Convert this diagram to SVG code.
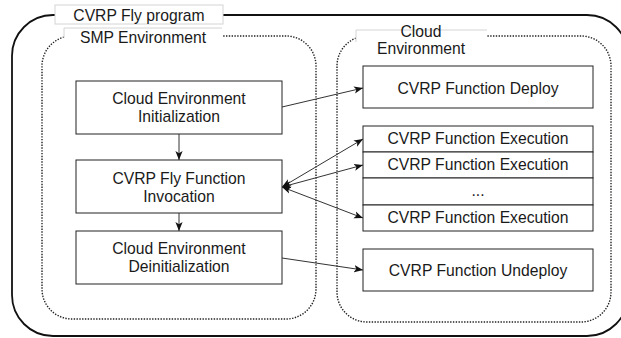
<svg xmlns="http://www.w3.org/2000/svg" width="621" height="338" viewBox="0 0 621 338">
  <style>
    .txt { font-family: "Liberation Sans", Arial, sans-serif; font-size: 15.7px; fill: #1a1a1a; text-anchor: middle; }
    .box { fill: #ffffff; stroke: #222; stroke-width: 1; }
    .dotted { fill: none; stroke: #222; stroke-width: 1.4; stroke-dasharray: 1.4 1.4; }
    .label-bg { fill: #ffffff; stroke: none; }
    .label-edge { fill: none; stroke: #d4d4d4; stroke-width: 1; }
    .conn { fill: none; stroke: #333; stroke-width: 1; }
  </style>
  <defs>
    <marker id="arrow" viewBox="0 0 10 10" refX="10" refY="5" markerWidth="9" markerHeight="9" markerUnits="userSpaceOnUse" orient="auto-start-reverse">
      <path d="M0,1 L10,5 L0,9 L2.5,5 z" fill="#111"/>
    </marker>
  </defs>

  <rect width="621" height="338" fill="#ffffff"/>

  <!-- outer program frame -->
  <g id="program">
    <rect x="12" y="15" width="616" height="321" rx="41" ry="41" fill="none" stroke="#111" stroke-width="1.8"/>
    <rect class="label-bg" x="55" y="5" width="168" height="19"/>
    <rect class="label-edge" x="55" y="5" width="168" height="19"/>
    <text class="txt" x="139" y="20.5">CVRP Fly program</text>
  </g>

  <!-- SMP environment container -->
  <g id="smp-environment">
    <rect class="dotted" x="42" y="36" width="274" height="283" rx="30" ry="30"/>
    <rect class="label-bg" x="64" y="28" width="158" height="18"/>
    <path class="label-edge" d="M64,38 V28 H222"/>
    <text class="txt" x="143" y="42.5">SMP Environment</text>
  </g>

  <!-- Cloud environment container -->
  <g id="cloud-environment">
    <rect class="dotted" x="337" y="36" width="274" height="286" rx="30" ry="30"/>
    <rect class="label-bg" x="356" y="30" width="131" height="28"/>
    <path class="label-edge" d="M356,42 V30 H487"/>
    <text class="txt" x="421" y="37">Cloud</text>
    <text class="txt" x="421" y="54">Environment</text>
  </g>

  <!-- SMP side steps -->
  <g id="init">
    <rect class="box" x="76" y="81" width="206" height="53"/>
    <text class="txt" x="179" y="104">Cloud Environment</text>
    <text class="txt" x="179" y="122">Initialization</text>
  </g>
  <g id="invocation">
    <rect class="box" x="76" y="160" width="206" height="53"/>
    <text class="txt" x="179" y="184">CVRP Fly Function</text>
    <text class="txt" x="179" y="202">Invocation</text>
  </g>
  <g id="deinit">
    <rect class="box" x="76" y="231" width="206" height="53"/>
    <text class="txt" x="179" y="254">Cloud Environment</text>
    <text class="txt" x="179" y="272">Deinitialization</text>
  </g>

  <!-- Cloud side functions -->
  <g id="deploy">
    <rect class="box" x="363" y="66" width="230" height="42"/>
    <text class="txt" x="478" y="94">CVRP Function Deploy</text>
  </g>
  <g id="execution-1">
    <rect class="box" x="363" y="126" width="230" height="26"/>
    <text class="txt" x="478" y="144">CVRP Function Execution</text>
  </g>
  <g id="execution-2">
    <rect class="box" x="363" y="152" width="230" height="26"/>
    <text class="txt" x="478" y="170">CVRP Function Execution</text>
  </g>
  <g id="execution-more">
    <rect class="box" x="363" y="178" width="230" height="27"/>
    <text class="txt" x="478" y="196">...</text>
  </g>
  <g id="execution-n">
    <rect class="box" x="363" y="205" width="230" height="26"/>
    <text class="txt" x="478" y="223">CVRP Function Execution</text>
  </g>
  <g id="undeploy">
    <rect class="box" x="363" y="249" width="230" height="42"/>
    <text class="txt" x="478" y="276">CVRP Function Undeploy</text>
  </g>

  <!-- connectors -->
  <g id="connectors">
    <line class="conn" x1="282" y1="107" x2="363" y2="88" marker-end="url(#arrow)"/>
    <line class="conn" x1="179" y1="134" x2="179" y2="160" marker-end="url(#arrow)"/>
    <line class="conn" x1="179" y1="213" x2="179" y2="231" marker-end="url(#arrow)"/>
    <line class="conn" x1="282" y1="258" x2="363" y2="270" marker-end="url(#arrow)"/>
    <line class="conn" x1="282" y1="187" x2="363" y2="139" marker-start="url(#arrow)" marker-end="url(#arrow)"/>
    <line class="conn" x1="282" y1="187" x2="363" y2="165" marker-start="url(#arrow)" marker-end="url(#arrow)"/>
    <line class="conn" x1="282" y1="187" x2="363" y2="218" marker-start="url(#arrow)" marker-end="url(#arrow)"/>
  </g>
</svg>
